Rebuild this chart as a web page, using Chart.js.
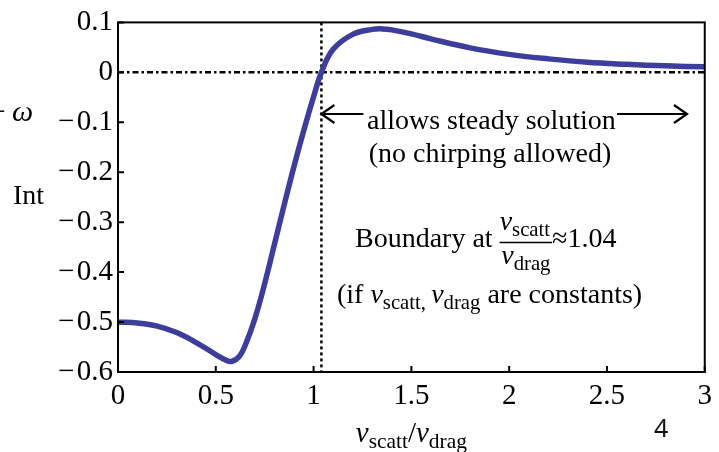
<!DOCTYPE html>
<html>
<head>
<meta charset="utf-8">
<script src="https://cdn.jsdelivr.net/npm/chart.js@4.4.0/dist/chart.umd.min.js"></script>
<style>
  html, body { margin: 0; padding: 0; background: #fff; }
  #wrap { width: 719px; height: 452px; }
</style>
</head>
<body>
<div id="wrap"><canvas id="intChart" width="719" height="452"></canvas></div>
<script>
// nu_scatt / nu_drag ratio and the integral value at each ratio
var ratio = [0, 0.1, 0.2, 0.3, 0.4, 0.5, 0.55, 0.58, 0.62, 0.65, 0.7, 0.75, 0.8, 0.85,
             0.9, 0.95, 1.0, 1.04, 1.1, 1.2, 1.3, 1.35, 1.4, 1.5, 1.6, 1.8, 2.0, 2.2, 2.4,
             2.6, 2.8, 3.0];
var intValues = [-0.500, -0.502, -0.508, -0.521, -0.541, -0.565, -0.576, -0.579, -0.569,
                 -0.547, -0.493, -0.423, -0.344, -0.265, -0.188, -0.116, -0.049, 0.000,
                 0.046, 0.076, 0.086, 0.087, 0.085, 0.077, 0.067, 0.049, 0.036, 0.027, 0.020,
                 0.016, 0.013, 0.011];
var xTicks = [0, 0.5, 1, 1.5, 2, 2.5, 3];
var yTicks = [-0.6, -0.5, -0.4, -0.3, -0.2, -0.1, 0, 0.1];
var boundary = 1.04;

var serif = '"Liberation Serif", "Times New Roman", serif';
var curveColor = '#3d3d9b';

function fmt(v) {
    var s = String(Math.round(v * 100) / 100);
    return s.replace('-', '\u2212\u200a');
}

// draws a run of text pieces: r = roman, i = italic, s = subscript
function run(ctx, x, y, parts, size, measureOnly) {
    var x0 = x;
    parts.forEach(function (p) {
        var style = p[1] || 'r';
        var sz = style === 's' ? size * 0.74 : size;
        ctx.font = (style === 'i' ? 'italic ' : '') + sz + 'px ' + serif;
        var dy = style === 's' ? size * 0.2 : 0;
        if (!measureOnly) ctx.fillText(p[0], x, y + dy);
        x += ctx.measureText(p[0]).width + (p[2] || 0);
    });
    return x - x0;
}

function arrowHead(ctx, x, y, dir) {
    ctx.beginPath();
    ctx.moveTo(x - dir * 13, y - 9);
    ctx.lineTo(x, y);
    ctx.lineTo(x - dir * 13, y + 9);
    ctx.stroke();
}

var framePlugin = {
    id: 'frameAndNotes',
    beforeDatasetsDraw: function (chart) {
        var ctx = chart.ctx, a = chart.chartArea;
        var xs = chart.scales.x, ys = chart.scales.y;
        ctx.save();
        ctx.strokeStyle = '#000';
        // zero line
        ctx.lineWidth = 2.5;
        ctx.setLineDash([6, 3, 2.5, 3]);
        var y0 = ys.getPixelForValue(0);
        ctx.beginPath();
        ctx.moveTo(a.left, y0);
        ctx.lineTo(a.right, y0);
        ctx.stroke();
        // boundary line
        ctx.lineWidth = 2.5;
        ctx.setLineDash([3, 3]);
        var xb = xs.getPixelForValue(boundary);
        ctx.beginPath();
        ctx.moveTo(xb, a.top);
        ctx.lineTo(xb, a.bottom);
        ctx.stroke();
        ctx.restore();
    },
    afterDraw: function (chart) {
        var ctx = chart.ctx, a = chart.chartArea;
        var xs = chart.scales.x, ys = chart.scales.y;
        ctx.save();
        ctx.strokeStyle = '#000';
        ctx.fillStyle = '#000';
        ctx.lineWidth = 2;
        ctx.strokeRect(a.left, a.top, a.right - a.left, a.bottom - a.top);

        // inward ticks
        ctx.beginPath();
        xTicks.forEach(function (v) {
            var px = xs.getPixelForValue(v);
            ctx.moveTo(px, a.bottom);
            ctx.lineTo(px, a.bottom - 6);
        });
        yTicks.forEach(function (v) {
            var py = ys.getPixelForValue(v);
            ctx.moveTo(a.left, py);
            ctx.lineTo(a.left + 6, py);
        });
        ctx.stroke();

        ctx.textBaseline = 'alphabetic';
        ctx.textAlign = 'left';
        var size = 28;

        // side labels
        run(ctx, -11, 121, [['\u2212', 'r', 6], ['\u03c9', 'i']], 30);
        run(ctx, 13, 204, [['Int']], 28);

        // arrows around the steady-solution note
        var xb = xs.getPixelForValue(boundary);
        var ay = 114;
        ctx.lineWidth = 2.2;
        ctx.beginPath();
        ctx.moveTo(xb, ay);
        ctx.lineTo(xb + 42, ay);
        ctx.moveTo(617, ay);
        ctx.lineTo(687, ay);
        ctx.stroke();
        arrowHead(ctx, xb, ay, -1);
        arrowHead(ctx, 687, ay, 1);
        run(ctx, 367, 129, [['allows steady solution']], size);
        var w = run(ctx, 0, 0, [['(no chirping allowed)']], size, true);
        run(ctx, 490 - w / 2, 162, [['(no chirping allowed)']], size);

        // boundary statement with fraction
        var bx = 355 + run(ctx, 355, 247, [['Boundary at ']], size);
        var numW = run(ctx, bx, 230, [['\u03bd', 'i'], ['scatt', 's']], size);
        var denW = run(ctx, bx, 0, [['\u03bd', 'i'], ['drag', 's']], size, true);
        var fw = Math.max(numW, denW) + 2;
        run(ctx, bx + (fw - denW) / 2, 264, [['\u03bd', 'i'], ['drag', 's']], size);
        ctx.lineWidth = 1.3;
        ctx.beginPath();
        ctx.moveTo(bx, 242.5);
        ctx.lineTo(bx + fw, 242.5);
        ctx.stroke();
        run(ctx, bx + fw, 247, [['\u22481.04']], size);

        run(ctx, 337, 303, [['(if '], ['\u03bd', 'i'], ['scatt', 's'], [', ', 's'],
                            ['\u03bd', 'i'], ['drag', 's'], [' are constants)']], size);

        // x axis title
        var title = [['\u03bd', 'i'], ['scatt', 's'], ['/'], ['\u03bd', 'i'], ['drag', 's']];
        var tw = run(ctx, 0, 0, title, 29, true);
        run(ctx, (a.left + a.right) / 2 - tw / 2, 442, title, 29);

        // page number
        ctx.font = '25px "Noto Sans", "Open Sans", sans-serif';
        ctx.fillStyle = '#111';
        ctx.fillText('4', 654, 437);
        ctx.restore();
    }
};

var chartData = ratio.map(function (r, i) { return { x: r, y: intValues[i] }; });

new Chart(document.getElementById('intChart'), {
    type: 'line',
    data: {
        datasets: [{
            data: chartData,
            borderColor: curveColor,
            borderWidth: 5.5,
            pointRadius: 0,
            fill: false,
            tension: 0.4
        }]
    },
    options: {
        responsive: false,
        animation: false,
        devicePixelRatio: 1,
        layout: { padding: { top: 19.5, right: 13, bottom: 0, left: 0 } },
        plugins: { legend: { display: false }, tooltip: { enabled: false } },
        scales: {
            x: {
                type: 'linear',
                min: 0,
                max: 3,
                afterBuildTicks: function (scale) {
                    scale.ticks = xTicks.map(function (v) { return { value: v }; });
                },
                afterFit: function (scale) { scale.height = 80; },
                grid: { display: false, drawTicks: false },
                border: { display: false },
                ticks: {
                    color: '#000',
                    padding: 7,
                    maxRotation: 0,
                    font: { family: serif, size: 29 },
                    callback: fmt
                }
            },
            y: {
                type: 'linear',
                min: -0.6,
                max: 0.1,
                afterBuildTicks: function (scale) {
                    scale.ticks = yTicks.map(function (v) { return { value: v }; });
                },
                afterFit: function (scale) { scale.width = 118; },
                grid: { display: false, drawTicks: false },
                border: { display: false },
                ticks: {
                    color: '#000',
                    padding: 5,
                    font: { family: serif, size: 29 },
                    callback: fmt
                }
            }
        }
    },
    plugins: [framePlugin]
});
</script>
</body>
</html>
